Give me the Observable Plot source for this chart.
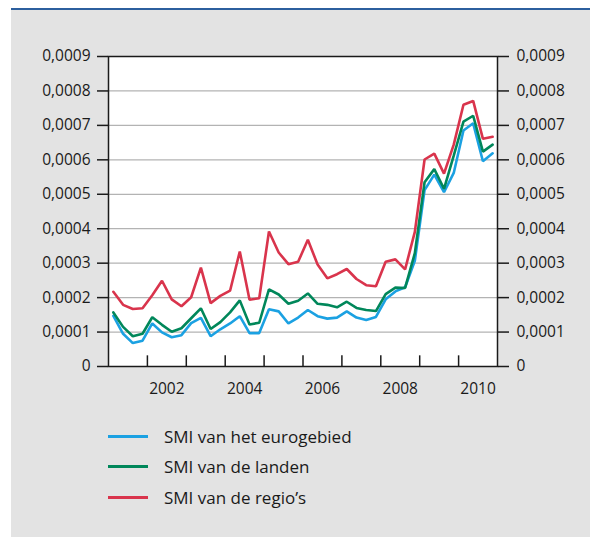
<!DOCTYPE html>
<html><head><meta charset="utf-8">
<script src="https://cdn.jsdelivr.net/npm/d3@7"></script>
<script src="https://cdn.jsdelivr.net/npm/@observablehq/plot@0.6"></script>
<style>
html,body{margin:0;padding:0;background:#fff;}
#wrap{position:relative;width:590px;height:537px;overflow:hidden;font-family:"Open Sans",sans-serif;}
#topline{position:absolute;left:11px;top:8px;width:579px;height:2px;background:#2c5f9e;}
#panel{position:absolute;left:11px;top:10px;width:579px;height:527px;background:#e3e3e3;}
#chart{position:absolute;left:0;top:0;}
#legend{position:absolute;left:108px;top:421px;}
.item{display:flex;align-items:center;height:30.5px;}
.sw{width:40px;height:3px;margin-right:16px;}
.lab{font-size:17px;color:#1a1a1a;}
</style></head><body>
<div id="wrap"><div id="topline"></div><div id="panel"></div><div id="chart"></div><div id="legend"></div></div>
<script>
// Quarterly data 2001 Q1 – 2010 Q4
const startYear = 2001;
const nQuarters = 40;
const quarterPos = Array.from({length: nQuarters}, (_, i) => startYear + Math.floor(i / 4) + ((i % 4) + 0.5) / 4);

const seriesNames = ["SMI van het eurogebied", "SMI van de landen", "SMI van de regio\u2019s"];
const seriesColors = ["#1ba1e2", "#00875a", "#d9344c"];

const euroArea = [
  0.000147, 0.000095, 0.000068, 0.000075, 0.000125, 0.000099, 0.000085, 0.000091,
  0.000126, 0.000141, 0.000088, 0.000108, 0.000125, 0.000146, 0.000097, 0.000097,
  0.000166, 0.000160, 0.000125, 0.000142, 0.000164, 0.000146, 0.000139, 0.000142,
  0.000160, 0.000142, 0.000135, 0.000144, 0.000195, 0.000218, 0.000230, 0.000307,
  0.000512, 0.000557, 0.000506, 0.000562, 0.000685, 0.000706, 0.000596, 0.000619
];
const countries = [
  0.000157, 0.000115, 0.000088, 0.000095, 0.000143, 0.000121, 0.000101, 0.000111,
  0.000140, 0.000169, 0.000109, 0.000129, 0.000157, 0.000192, 0.000122, 0.000127,
  0.000224, 0.000209, 0.000182, 0.000191, 0.000212, 0.000182, 0.000179, 0.000172,
  0.000188, 0.000170, 0.000164, 0.000161, 0.000210, 0.000229, 0.000228, 0.000329,
  0.000535, 0.000573, 0.000516, 0.000612, 0.000711, 0.000728, 0.000624, 0.000644
];
const regions = [
  0.000217, 0.000179, 0.000167, 0.000169, 0.000207, 0.000249, 0.000195, 0.000175,
  0.000201, 0.000287, 0.000184, 0.000205, 0.000220, 0.000334, 0.000194, 0.000198,
  0.000392, 0.000331, 0.000297, 0.000304, 0.000368, 0.000296, 0.000256, 0.000268,
  0.000283, 0.000254, 0.000236, 0.000233, 0.000304, 0.000311, 0.000282, 0.000391,
  0.000601, 0.000618, 0.000560, 0.000644, 0.000760, 0.000771, 0.000661, 0.000667
];

const yTicks = [0, 0.0001, 0.0002, 0.0003, 0.0004, 0.0005, 0.0006, 0.0007, 0.0008, 0.0009];
const yearBoundaries = [2002, 2003, 2004, 2005, 2006, 2007, 2008, 2009, 2010];
const yearLabels = [2002, 2004, 2006, 2008, 2010];

const allSeries = [euroArea, countries, regions];
const rows = allSeries.flatMap((vals, s) => vals.map((v, i) => ({x: quarterPos[i], y: v, s: seriesNames[s]})));

const fmt = d => d === 0 ? "0" : d.toFixed(4).replace(".", ",");

const plot = Plot.plot({
  width: 590,
  height: 410,
  marginLeft: 108,
  marginRight: 93,
  marginTop: 56,
  marginBottom: 44,
  x: {domain: [2001, 2011], label: null},
  y: {domain: [0, 0.0009], label: null},
  color: {domain: seriesNames, range: seriesColors},
  style: {background: "transparent", fontFamily: "'Open Sans', sans-serif", fontSize: "15.5px", color: "#1a1a1a"},
  marks: [
    Plot.frame({fill: "white"}),
    Plot.ruleY(yTicks.slice(1, -1), {stroke: "#b3b3b3", strokeWidth: 1.3}),
    Plot.line(rows, {x: "x", y: "y", z: "s", stroke: "s", strokeWidth: 2.6, strokeLinejoin: "miter"}),
    Plot.ruleX(yearBoundaries, {x: d => d, y1: 0, y2: 0.000031, stroke: "#1a1a1a", strokeWidth: 1.5}),
    Plot.frame({stroke: "#1a1a1a", strokeWidth: 1.5}),
    Plot.axisY({anchor: "left", label: null, ticks: yTicks, tickSize: 11, tickPadding: 7, tickFormat: fmt, stroke: "#1a1a1a", strokeWidth: 1.5}),
    Plot.axisY({anchor: "right", label: null, ticks: yTicks, tickSize: 11, tickPadding: 8, tickFormat: fmt, stroke: "#1a1a1a", strokeWidth: 1.5}),
    Plot.axisX({label: null, ticks: yearLabels.map(y => y + 0.5), tickSize: 0, tickPadding: 16, tickFormat: d => String(Math.floor(d))})
  ]
});
document.getElementById("chart").appendChild(plot);

const legend = d3.select("#legend");
seriesNames.forEach((name, i) => {
  const it = legend.append("div").attr("class", "item");
  it.append("div").attr("class", "sw").style("background", seriesColors[i]);
  it.append("div").attr("class", "lab").text(name);
});
</script>
</body></html>
